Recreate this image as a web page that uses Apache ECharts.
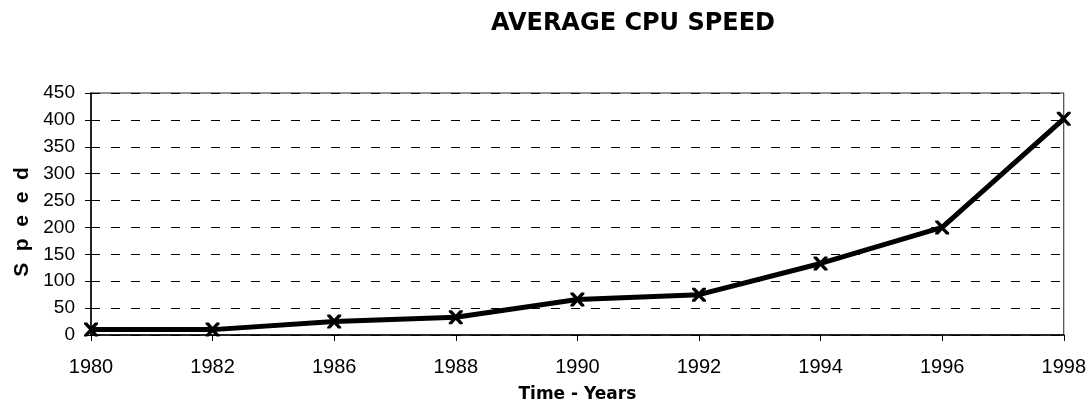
<!DOCTYPE html>
<html>
<head>
<meta charset="utf-8">
<script src="https://cdn.jsdelivr.net/npm/echarts@6/dist/echarts.min.js"></script>
<style>html,body{margin:0;padding:0;background:#fff}#c{width:1089px;height:414px}</style>
</head>
<body>
<div id="c"></div>
<script>
const years = ['1980','1982','1986','1988','1990','1992','1994','1996','1998'];
const speed = [10, 10, 25, 33, 66, 75, 133, 200, 402];
const yTicks = {min: 0, max: 450, interval: 50};
const titleText = 'AVERAGE CPU SPEED';
const xTitle = 'Time - Years';
const yTitle = 'S  p  e  e  d';

const chart = echarts.init(document.getElementById('c'), null, {renderer: 'canvas'});
const xMark = 'path://M0,0 L2.2,0 L5,3 L7.8,0 L10,0 L10,1.2 L6.4,5 L10,8.8 L10,10 L7.8,10 L5,7 L2.2,10 L0,10 L0,8.8 L3.6,5 L0,1.2 Z';
chart.setOption({
  animation: false,
  backgroundColor: '#fff',
  title: {
    text: titleText,
    left: 628, top: 7, textAlign: 'center',
    textStyle: {fontFamily: 'DejaVu Sans', fontWeight: 'bold', fontSize: 24, color: '#000'}
  },
  grid: {left: 91, right: 24, top: 93, bottom: 79, show: true, borderColor: '#222', borderWidth: 1, backgroundColor: 'transparent'},
  xAxis: {
    type: 'category', data: years, boundaryGap: false,
    name: xTitle, nameLocation: 'middle', nameGap: 51,
    nameTextStyle: {fontFamily: 'DejaVu Sans', fontWeight: 'bold', fontSize: 17, color: '#000'},
    axisLine: {lineStyle: {color: '#000', width: 1.5}},
    axisTick: {show: true, inside: false, length: 6, lineStyle: {color: '#000'}},
    axisLabel: {fontFamily: 'Liberation Sans', fontSize: 20, color: '#000', margin: 22},
    splitLine: {show: false}
  },
  yAxis: {
    type: 'value', min: yTicks.min, max: yTicks.max, interval: yTicks.interval,
    name: yTitle, nameLocation: 'middle', nameGap: 58, nameRotate: 90,
    nameTextStyle: {fontFamily: 'Liberation Sans', fontWeight: 'bold', fontSize: 21, color: '#000', padding: [0, 16, 0, 0]},
    axisLine: {show: true, lineStyle: {color: '#000', width: 1.5}},
    axisTick: {show: true, inside: false, length: 6, lineStyle: {color: '#000'}},
    axisLabel: {fontFamily: 'Liberation Sans', fontSize: 19, color: '#000', margin: 16},
    splitLine: {show: true, lineStyle: {color: '#000', type: [9, 11], width: 1}}
  },
  series: [{
    type: 'line', data: speed,
    symbol: xMark, symbolSize: 14, showSymbol: true,
    lineStyle: {color: '#000', width: 5},
    itemStyle: {color: '#000'}
  }]
});
</script>
</body>
</html>
